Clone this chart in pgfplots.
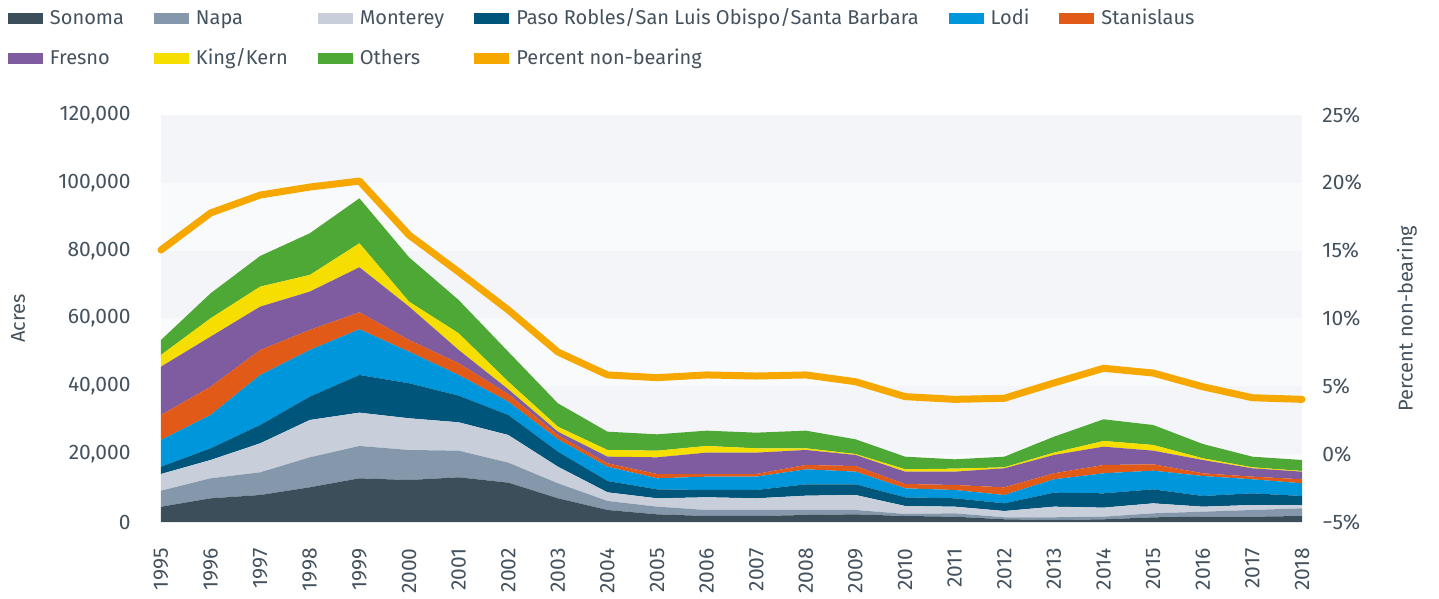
\documentclass[border=0pt]{standalone}
\usepackage{fontspec}
\setmainfont{Fira Sans}
\usepackage{pgfplots}
\usepackage{pgfplotstable}
\pgfplotsset{compat=1.18}

\definecolor{sonoma}{HTML}{3D4E5B}
\definecolor{napa}{HTML}{8497AB}
\definecolor{monterey}{HTML}{C8CFDB}
\definecolor{paso}{HTML}{00557A}
\definecolor{lodi}{HTML}{0096DB}
\definecolor{stan}{HTML}{E25A17}
\definecolor{fresno}{HTML}{7F5CA0}
\definecolor{kern}{HTML}{F5DE00}
\definecolor{others}{HTML}{4EA836}
\definecolor{pct}{HTML}{F7A800}
\definecolor{txt}{HTML}{44525E}
\definecolor{bandA}{HTML}{F3F5F9}
\definecolor{bandB}{HTML}{F9FAFB}

\pgfplotstableread{
year S N M P L St F K O
1995 4500 4730 4920 2150 7880 7370 14250 3450 4420
1996 6980 5900 5400 3440 9830 8350 14750 5410 7370
1997 7960 6690 8550 5400 14750 7370 12780 5900 9040
1998 10230 8840 11010 6880 13760 5900 11300 4920 12290
1999 12880 9530 9830 11110 13460 5020 13270 7070 13270
2000 12380 8850 9350 10320 9300 3470 9830 1470 13070
2001 13180 7850 8370 7850 6100 3450 3920 4920 9820
2002 11600 5900 8150 5900 3940 2250 1380 2260 8820
2003 6990 4420 4900 4420 3660 1260 980 1470 6900
2004 3540 2650 2560 3340 4220 990 1960 1970 5400
2005 2260 2260 2460 2650 3250 1270 4920 1960 4820
2006 1770 1770 3740 2160 3930 780 6300 1960 4520
2007 1770 1770 3450 2450 3930 780 6300 1280 4610
2008 2060 1480 4220 3350 4420 1280 4420 500 5200
2009 2260 1280 4420 3150 3730 1670 3250 290 4330
2010 1770 590 2360 2560 2650 1280 3630 700 3720
2011 1570 990 1960 2470 2450 1470 3930 890 2750
2012 800 590 1850 2270 2450 2260 5610 300 3130
2013 590 800 3130 4120 3950 1770 5400 690 4700
2014 790 780 2660 4230 5900 2450 5400 1680 6390
2015 1380 1180 2940 4130 5510 1880 4010 1680 5890
2016 1570 1470 1480 3150 5890 800 3920 500 4220
2017 1570 1970 1470 3450 4130 780 2460 300 3130
2018 1770 2260 980 2660 3740 1180 2250 200 3240
}\acres

\pgfplotstableread{
year pct
1995 15.05
1996 17.78
1997 19.10
1998 19.69
1999 20.13
2000 16.15
2001 13.43
2002 10.63
2003 7.53
2004 5.84
2005 5.64
2006 5.84
2007 5.76
2008 5.84
2009 5.34
2010 4.24
2011 4.04
2012 4.12
2013 5.25
2014 6.33
2015 5.98
2016 4.97
2017 4.16
2018 4.04
}\pcttab

\begin{document}
\begin{tikzpicture}
\useasboundingbox (-80.5pt,-38.5pt) rectangle (639pt,261pt);
% background bands of the plot area
\fill[bandB] (0pt,0pt) rectangle (570.5pt,203.5pt);
\fill[bandA] (0pt,33.9167pt) rectangle (570.5pt,67.8333pt);
\fill[bandA] (0pt,101.75pt) rectangle (570.5pt,135.6667pt);
\fill[bandA] (0pt,169.5833pt) rectangle (570.5pt,203.5pt);
\begin{axis}[
  at={(0pt,0pt)}, anchor=south west,
  width=570.5pt, height=203.5pt, scale only axis,
  xmin=1995, xmax=2018, ymin=0, ymax=120000,
  axis line style={draw=none},
  major tick length=0pt,
  scaled y ticks=false,
  xtick={1995,1996,1997,1998,1999,2000,2001,2002,2003,2004,2005,2006,2007,2008,2009,2010,2011,2012,2013,2014,2015,2016,2017,2018},
  xticklabels={1995,1996,1997,1998,1999,2000,2001,2002,2003,2004,2005,2006,2007,2008,2009,2010,2011,2012,2013,2014,2015,2016,2017,2018},
  ytick={0,20000,40000,60000,80000,100000,120000},
  yticklabels={0,{20,000},{40,000},{60,000},{80,000},{100,000},{120,000}},
  xtick pos=bottom, ytick pos=left,
  tick label style={font=\fontsize{10.5}{12}\selectfont, text=txt, inner sep=0pt},
  xticklabel style={rotate=90, anchor=east},
  xticklabel shift=13pt,
  yticklabel style={anchor=east},
  yticklabel shift=15pt,
  ylabel={Acres},
  ylabel style={at={(axis description cs:-0.12533,0.5)}, anchor=center, font=\fontsize{10}{12}\selectfont, text=txt},
  stack plots=y,
]
\addplot[fill=sonoma, draw=none] table[x=year,y=S]{\acres} \closedcycle;
\addplot[fill=napa, draw=none] table[x=year,y=N]{\acres} \closedcycle;
\addplot[fill=monterey, draw=none] table[x=year,y=M]{\acres} \closedcycle;
\addplot[fill=paso, draw=none] table[x=year,y=P]{\acres} \closedcycle;
\addplot[fill=lodi, draw=none] table[x=year,y=L]{\acres} \closedcycle;
\addplot[fill=stan, draw=none] table[x=year,y=St]{\acres} \closedcycle;
\addplot[fill=fresno, draw=none] table[x=year,y=F]{\acres} \closedcycle;
\addplot[fill=kern, draw=none] table[x=year,y=K]{\acres} \closedcycle;
\addplot[fill=others, draw=none] table[x=year,y=O]{\acres} \closedcycle;
\end{axis}

\begin{axis}[
  at={(0pt,0pt)}, anchor=south west,
  width=570.5pt, height=203.5pt, scale only axis,
  xmin=1995, xmax=2018, ymin=-5, ymax=25,
  axis x line=none, axis y line*=right,
  axis line style={draw=none},
  major tick length=0pt,
  ytick={-5,0,5,10,15,20,25},
  yticklabels={−5\%,0\%,5\%,10\%,15\%,20\%,25\%},
  tick label style={font=\fontsize{10.5}{12}\selectfont, text=txt, inner sep=0pt},
  yticklabel style={anchor=west},
  yticklabel shift=10pt,
  ylabel={Percent non-bearing},
  ylabel style={at={(axis description cs:1.09203,0.5)}, anchor=center, font=\fontsize{10}{12}\selectfont, text=txt},
  clip=false,
  legend image code/.code={\fill[#1] (0pt,-1.8pt) rectangle (17.5pt,3.7pt);},
  legend columns=6,
  legend cell align=left,
  legend style={at={(axis description cs:-0.13409,1.2582)}, anchor=north west,
    draw=none, fill=none, inner sep=0pt, outer sep=0pt,
    font=\fontsize{10}{12}\selectfont, text=txt,
    nodes={inner sep=0pt, text height=7.5pt, text depth=2.5pt},
    /tikz/every even column/.append style={column sep=15pt},
    /tikz/every odd column/.append style={column sep=3.5pt},
    row sep=10pt},
]
\addlegendimage{fill=sonoma, draw=none}
\addlegendentry{Sonoma}
\addlegendimage{fill=napa, draw=none}
\addlegendentry{Napa}
\addlegendimage{fill=monterey, draw=none}
\addlegendentry{Monterey}
\addlegendimage{fill=paso, draw=none}
\addlegendentry{Paso Robles/San Luis Obispo/Santa Barbara}
\addlegendimage{fill=lodi, draw=none}
\addlegendentry{Lodi}
\addlegendimage{fill=stan, draw=none}
\addlegendentry{Stanislaus}
\addlegendimage{fill=fresno, draw=none}
\addlegendentry{Fresno}
\addlegendimage{fill=kern, draw=none}
\addlegendentry{King/Kern}
\addlegendimage{fill=others, draw=none}
\addlegendentry{Others}
\addlegendimage{fill=pct, draw=none}
\addlegendentry{Percent non-bearing}
\addplot[color=pct, line width=3.5pt, line join=round, line cap=round, forget plot] table[x=year,y=pct]{\pcttab};
\end{axis}
\end{tikzpicture}
\end{document}
